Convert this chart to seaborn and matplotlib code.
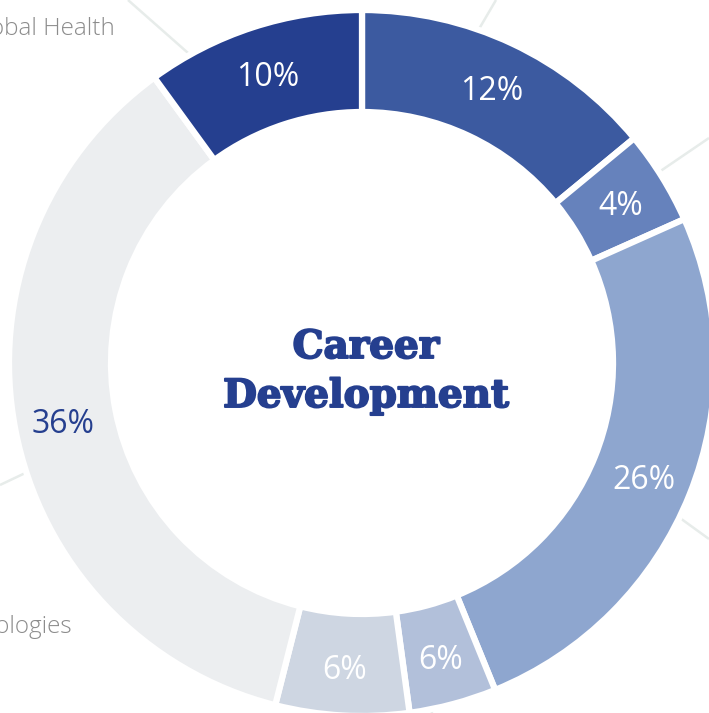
import numpy as np
import matplotlib
matplotlib.use("Agg")
import matplotlib.pyplot as plt
import matplotlib.patheffects as pe
import seaborn as sns

# ---- data ----
segment_labels = ["12%", "4%", "26%", "6%", "6%", "36%", "10%"]
segment_values = [14.0, 4.3, 25.5, 4.0, 6.1, 36.0, 10.0]   # drawn angular shares
segment_colors = ["#3c5aa0", "#6682bc", "#8ea6cf", "#b2c0da", "#ced6e2", "#eceef0", "#253f8f"]
label_colors = ["white", "white", "white", "white", "white", "#253f8f", "white"]
center_title = ["Career", "Development"]
outer_labels = ["Global Health", "Technologies"]

sns.set_theme(style="white")
plt.rcParams['font.family'] = ['Open Sans', 'DejaVu Sans']

W, H = 709, 713
fig = plt.figure(figsize=(W / 100, H / 100), dpi=100)
ax = fig.add_axes([0, 0, 1, 1])

def Y(y):  # convert top-down pixel to axis y
    return H - y

# faint decorative connector lines behind the ring
deco = [((128, 0), (230, 90)), ((496, 0), (455, 70)), ((709, 138), (640, 185)),
        ((680, 518), (709, 539)), ((0, 485), (40, 466)), ((427, 690), (432, 713))]
for (x0, y0), (x1, y1) in deco:
    ax.plot([x0, x1], [Y(y0), Y(y1)], color="#e7ecea", lw=1.8, zorder=0,
            solid_capstyle="butt")

cx, cy = 362, Y(363)
R_out, R_in = 353, 251
wedges, _ = ax.pie(segment_values, colors=segment_colors, startangle=90,
                   counterclock=False, center=(cx, cy), radius=R_out,
                   wedgeprops=dict(width=R_out - R_in, edgecolor="white", linewidth=4.5),
                   frame=True)
ax.set_xlim(0, W)
ax.set_ylim(0, H)
ax.axis("off")
for w in wedges:
    w.set_zorder(2)

r_lab = 304
for w, lab, col in zip(wedges, segment_labels, label_colors):
    th = np.deg2rad((w.theta1 + w.theta2) / 2)
    ax.text(cx + r_lab * np.cos(th), cy + r_lab * np.sin(th), lab,
            ha="center", va="center_baseline", fontsize=23, color=col,
            family=["Open Sans", "DejaVu Sans"], zorder=3)

heavy = [pe.withStroke(linewidth=1.4, foreground="#253f8f")]
ax.text(366, Y(358), center_title[0], ha="center", va="baseline", fontsize=28,
        fontweight="bold", family=["DejaVu Serif"], color="#253f8f", zorder=3,
        path_effects=heavy)
ax.text(366, Y(407), center_title[1], ha="center", va="baseline", fontsize=28,
        fontweight="bold", family=["DejaVu Serif"], color="#253f8f", zorder=3,
        path_effects=heavy)

ax.text(115, Y(35), outer_labels[0], ha="right", va="baseline", fontsize=17.5,
        color="#8c8c8c", fontweight="light", zorder=1)
ax.text(72, Y(633), outer_labels[1], ha="right", va="baseline", fontsize=17.5,
        color="#8c8c8c", fontweight="light", zorder=1)

fig.savefig("out.png", dpi=100, facecolor="white")
